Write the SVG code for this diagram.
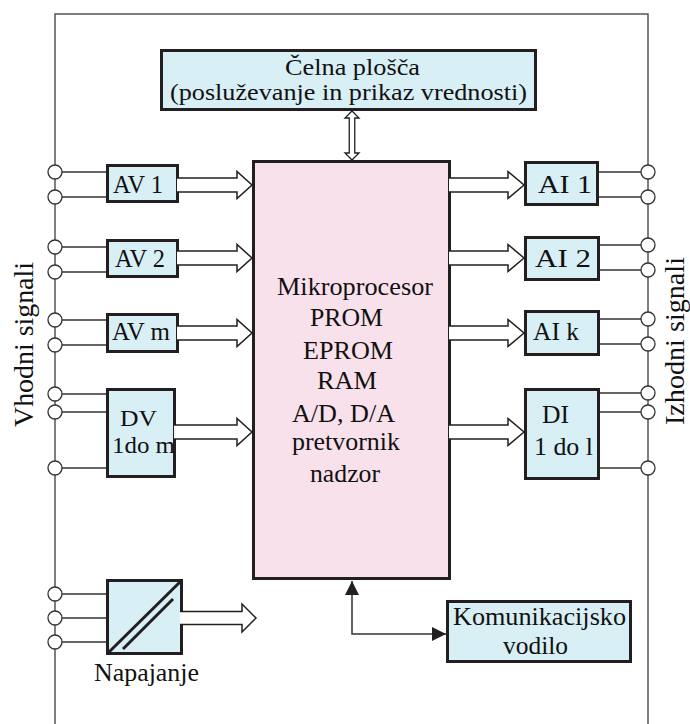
<svg xmlns="http://www.w3.org/2000/svg" width="690" height="724" viewBox="0 0 690 724">
<defs>
<style>
.box{fill:#d9eff6;stroke:#231f20;stroke-width:3}
.main{fill:#f9e1ec;stroke:#231f20;stroke-width:3}
.t{font-family:"Liberation Serif","Times New Roman",Times,serif;fill:#111;font-size:25px}
.wire{fill:none;stroke:#333;stroke-width:1.5}
.frame{fill:none;stroke:#555;stroke-width:1.5}
.term{fill:#fff;stroke:#333;stroke-width:1.3}
.hollow{fill:#fff;stroke:#231f20;stroke-width:1.5;stroke-linejoin:miter}
.thick{stroke:#231f20;stroke-width:3}
</style>
<marker id="ah" viewBox="0 0 10 10" refX="10" refY="5" markerUnits="userSpaceOnUse" markerWidth="15" markerHeight="14" orient="auto-start-reverse">
<path d="M0,0 L10,5 L0,10 z" fill="#231f20"/>
</marker>
</defs>
<rect width="690" height="724" fill="#fff"/>

<g id="frame">
<path class="frame" d="M55,724 L55,14 L648,14 L648,724"/>
</g>

<g id="labels">
<text class="t" style="font-size:27px" transform="translate(33,427) rotate(-90)" textLength="165" lengthAdjust="spacingAndGlyphs">Vhodni signali</text>
<text class="t" style="font-size:27px" transform="translate(684,425) rotate(-90)" textLength="168" lengthAdjust="spacingAndGlyphs">Izhodni signali</text>
</g>

<g id="panel">
<rect class="box" x="161.5" y="50.5" width="374" height="59"/>
<text class="t" style="font-size:23px" x="285" y="75" textLength="135" lengthAdjust="spacingAndGlyphs">Čelna plošča</text>
<text class="t" style="font-size:23px" x="170" y="100" textLength="357" lengthAdjust="spacingAndGlyphs">(posluževanje in prikaz vrednosti)</text>
</g>

<g id="main">
<rect class="main" x="253.5" y="161.5" width="196" height="417"/>
<text class="t" x="277" y="295" textLength="156" lengthAdjust="spacingAndGlyphs">Mikroprocesor</text>
<text class="t" x="310" y="326" textLength="73" lengthAdjust="spacingAndGlyphs">PROM</text>
<text class="t" x="303" y="359" textLength="90" lengthAdjust="spacingAndGlyphs">EPROM</text>
<text class="t" x="317" y="389" textLength="60" lengthAdjust="spacingAndGlyphs">RAM</text>
<text class="t" x="292" y="422" textLength="103" lengthAdjust="spacingAndGlyphs">A/D, D/A</text>
<text class="t" x="292" y="450" textLength="108" lengthAdjust="spacingAndGlyphs">pretvornik</text>
<text class="t" x="310" y="482" textLength="70" lengthAdjust="spacingAndGlyphs">nadzor</text>
</g>

<g id="av1">
<rect class="box" x="107.5" y="165.5" width="70" height="36"/>
<text class="t" style="font-size:26px" x="113" y="193" textLength="50" lengthAdjust="spacingAndGlyphs">AV 1</text>
</g>
<g id="av2">
<rect class="box" x="107.5" y="240.5" width="70" height="36"/>
<text class="t" style="font-size:26px" x="115" y="267" textLength="50" lengthAdjust="spacingAndGlyphs">AV 2</text>
</g>
<g id="avm">
<rect class="box" x="107.5" y="314.5" width="70" height="37"/>
<text class="t" style="font-size:26px" x="112" y="340" textLength="58" lengthAdjust="spacingAndGlyphs">AV m</text>
</g>
<g id="dv">
<rect class="box" x="107.5" y="389.5" width="67" height="87"/>
<text class="t" style="font-size:24px" x="120" y="426" textLength="37" lengthAdjust="spacingAndGlyphs">DV</text>
<text class="t" style="font-size:24px" x="112" y="453" textLength="63" lengthAdjust="spacingAndGlyphs">1do m</text>
</g>

<g id="ai1">
<rect class="box" x="525.5" y="162.5" width="72" height="42"/>
<text class="t" style="font-size:26px" x="538" y="193" textLength="54" lengthAdjust="spacingAndGlyphs">AI 1</text>
</g>
<g id="ai2">
<rect class="box" x="525.5" y="237.5" width="73" height="42"/>
<text class="t" style="font-size:26px" x="535" y="267" textLength="56" lengthAdjust="spacingAndGlyphs">AI 2</text>
</g>
<g id="aik">
<rect class="box" x="525.5" y="311.5" width="73" height="43"/>
<text class="t" style="font-size:26px" x="533" y="340" textLength="46" lengthAdjust="spacingAndGlyphs">AI k</text>
</g>
<g id="di">
<rect class="box" x="525.5" y="389.5" width="73" height="89"/>
<text class="t" style="font-size:26px" x="542" y="423" textLength="27" lengthAdjust="spacingAndGlyphs">DI</text>
<text class="t" style="font-size:26px" x="534" y="455" textLength="59" lengthAdjust="spacingAndGlyphs">1 do l</text>
</g>

<g id="napajanje">
<rect class="box" x="107.5" y="580.5" width="74" height="73"/>
<line class="thick" x1="107.5" y1="653.5" x2="181.5" y2="580.5"/>
<line class="thick" x1="123" y1="649" x2="173" y2="599"/>
<text class="t" style="font-size:26px" x="94" y="681" textLength="105" lengthAdjust="spacingAndGlyphs">Napajanje</text>
</g>

<g id="komunikacija">
<rect class="box" x="447.5" y="601.5" width="183" height="60"/>
<text class="t" style="font-size:25px" x="453" y="625" textLength="173" lengthAdjust="spacingAndGlyphs">Komunikacijsko</text>
<text class="t" style="font-size:25px" x="503" y="654" textLength="65" lengthAdjust="spacingAndGlyphs">vodilo</text>
</g>

<g id="connectors">
<path class="wire" d="M55,172 H106 M55,197 H106 M55,247 H106 M55,272 H106 M55,320 H106 M55,345 H106 M55,394 H106 M55,412 H106 M55,468 H106 M55,594 H106 M55,618 H106 M55,642 H106"/>
<path class="wire" d="M599,172 H648 M599,197 H648 M600,245 H648 M600,270 H648 M600,319 H648 M600,344 H648 M600,393 H648 M600,412 H648 M600,468 H648"/>
<g class="term">
<circle cx="55" cy="172" r="7"/><circle cx="55" cy="197" r="7"/>
<circle cx="55" cy="247" r="7"/><circle cx="55" cy="272" r="7"/>
<circle cx="55" cy="320" r="7"/><circle cx="55" cy="345" r="7"/>
<circle cx="55" cy="394" r="7"/><circle cx="55" cy="412" r="7"/><circle cx="55" cy="468" r="7"/>
<circle cx="55" cy="594" r="7"/><circle cx="55" cy="618" r="7"/><circle cx="55" cy="642" r="7"/>
<circle cx="648" cy="172" r="7"/><circle cx="648" cy="197" r="7"/>
<circle cx="648" cy="245" r="7"/><circle cx="648" cy="270" r="7"/>
<circle cx="648" cy="319" r="7"/><circle cx="648" cy="344" r="7"/>
<circle cx="648" cy="393" r="7"/><circle cx="648" cy="412" r="7"/><circle cx="648" cy="468" r="7"/>
</g>
<path class="hollow" d="M177,178 L237,178 L237,171.5 L252,185 L237,198.5 L237,192 L177,192"/>
<path class="hollow" d="M177,251 L237,251 L237,244.5 L252,258 L237,271.5 L237,265 L177,265"/>
<path class="hollow" d="M177,326 L237,326 L237,319.5 L252,333 L237,346.5 L237,340 L177,340"/>
<path class="hollow" d="M174,425 L237,425 L237,418.5 L252,432 L237,445.5 L237,439 L174,439"/>
<path class="hollow" d="M449,178 L508,178 L508,171.5 L524,185 L508,198.5 L508,192 L449,192"/>
<path class="hollow" d="M449,251 L508,251 L508,244.5 L524,258 L508,271.5 L508,265 L449,265"/>
<path class="hollow" d="M449,326 L508,326 L508,319.5 L524,333 L508,346.5 L508,340 L449,340"/>
<path class="hollow" d="M449,425 L508,425 L508,418.5 L524,432 L508,445.5 L508,439 L449,439"/>
<path class="hollow" d="M180,611.5 L242,611.5 L242,604 L256,618 L242,632 L242,624.5 L180,624.5"/>
<polygon class="hollow" style="stroke-width:1.3" points="352,111 359,118 354.75,118 354.75,153 359,153 352,160 345,153 349.25,153 349.25,118 345,118"/>
<path d="M352,581 V634 H446" fill="none" stroke="#333" stroke-width="1.5" marker-start="url(#ah)" marker-end="url(#ah)"/>
</g>
</svg>
